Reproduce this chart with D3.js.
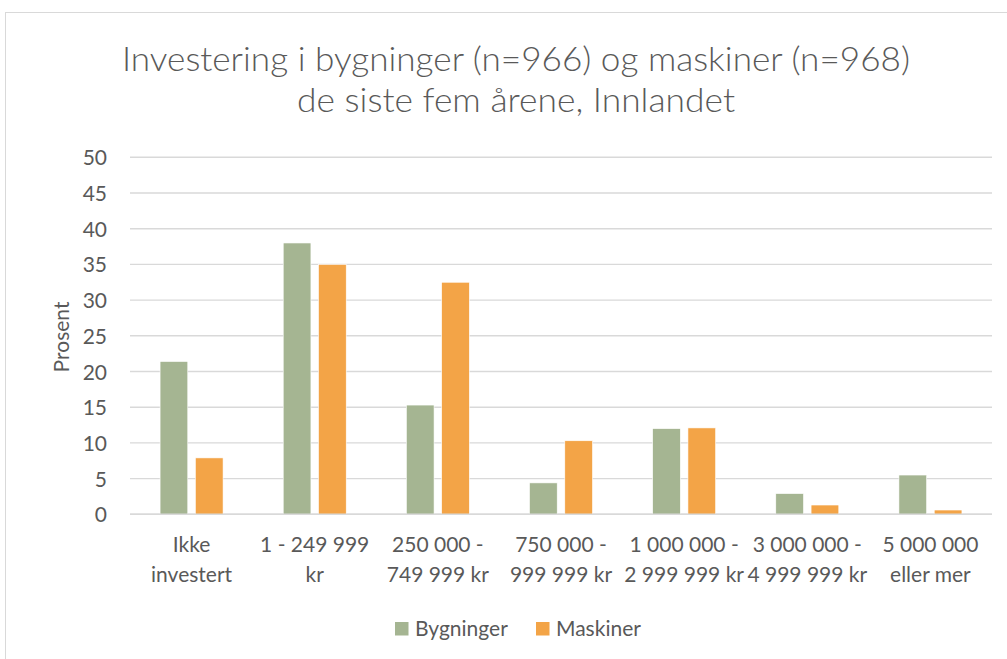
<!DOCTYPE html>
<html>
<head>
<meta charset="utf-8">
<script src="https://cdn.jsdelivr.net/npm/d3@7"></script>
<style>
  html, body { margin: 0; padding: 0; background: #fff; }
  svg { display: block; }
  text { font-family: "Lato", "Open Sans", sans-serif; fill: #595959; }
</style>
</head>
<body>
<svg id="chart" width="1007" height="659"></svg>
<script>
const categories = [
  ["Ikke", "investert"],
  ["1 - 249 999", "kr"],
  ["250 000 -", "749 999 kr"],
  ["750 000 -", "999 999 kr"],
  ["1 000 000 -", "2 999 999 kr"],
  ["3 000 000 -", "4 999 999 kr"],
  ["5 000 000", "eller mer"]
];
const seriesNames = ["Bygninger", "Maskiner"];
const bygninger = [21.4, 38.0, 15.3, 4.4, 12.0, 2.9, 5.5];
const maskiner = [7.9, 35.0, 32.5, 10.3, 12.1, 1.3, 0.6];
const yTicks = [0, 5, 10, 15, 20, 25, 30, 35, 40, 45, 50];
const titleLines = ["Investering i bygninger (n=966) og maskiner (n=968)", "de siste fem årene, Innlandet"];
const yLabel = "Prosent";
const colors = ["#a5b592", "#f3a447"];

(function () {
const svg = d3.select("#chart");
const values = [bygninger, maskiner];

// chart frame
svg.append("rect").attr("x", 5.5).attr("y", 12.5).attr("width", 1100).attr("height", 800)
  .attr("fill", "none").attr("stroke", "#d9d9d9").attr("stroke-width", 1);

const pLeft = 130, pRight = 992, pTop = 157.3, pBottom = 514.3;
const x = d3.scaleBand().domain(d3.range(categories.length)).range([pLeft, pRight]).padding(0);
const groupW = 63;
const xs = d3.scaleBand().domain(seriesNames).range([0, groupW]).paddingInner(0.215).paddingOuter(0);
const y = d3.scaleLinear().domain([0, 50]).range([pBottom, pTop]);

// gridlines
svg.append("g").selectAll("line").data(yTicks).join("line")
  .attr("x1", pLeft).attr("x2", pRight)
  .attr("y1", d => y(d)).attr("y2", d => y(d))
  .attr("stroke", "#d9d9d9").attr("stroke-width", 1.4);

// y axis labels
const yAxis = d3.axisLeft(y).tickValues(yTicks).tickSize(0).tickPadding(0);
const gy = svg.append("g").attr("transform", `translate(107,0)`).call(yAxis);
gy.select(".domain").remove();
gy.selectAll("text").style("font-size", "21px").attr("fill", "#595959")
  .style("font-family", "Lato, 'Open Sans', sans-serif").attr("dy", "0.36em");

// bars
seriesNames.forEach((s, si) => {
  svg.append("g").selectAll("rect").data(values[si]).join("rect")
    .attr("x", (d, i) => x(i) + (x.bandwidth() - groupW) / 2 + xs(s))
    .attr("width", xs.bandwidth())
    .attr("y", d => y(d))
    .attr("height", d => y(0) - y(d))
    .attr("fill", colors[si])
    .attr("stroke", "#fff").attr("stroke-width", 0.6);
});

// x axis line
svg.append("line").attr("x1", pLeft).attr("x2", pRight).attr("y1", pBottom).attr("y2", pBottom)
  .attr("stroke", "#d9d9d9").attr("stroke-width", 1.4);

// x labels
const xl = svg.append("g").selectAll("text").data(categories).join("text")
  .attr("text-anchor", "middle").style("font-size", "21px");
xl.each(function(d, i) {
  const t = d3.select(this);
  const cx = x(i) + x.bandwidth() / 2;
  d.forEach((line, li) => {
    t.append("tspan").attr("x", cx).attr("y", 552 + li * 30).text(line);
  });
});

// y label
svg.append("text").attr("transform", "translate(69,337) rotate(-90)")
  .attr("text-anchor", "middle").style("font-size", "21px").text(yLabel);

// title
const titleW = [788, 438];
titleLines.forEach((line, i) => {
  svg.append("text").attr("x", 516).attr("y", 71 + i * 41).attr("text-anchor", "middle")
    .style("font-size", "34px").style("font-weight", "300")
    .attr("textLength", titleW[i]).attr("lengthAdjust", "spacingAndGlyphs").text(line);
});

// legend
const lg = svg.append("g");
const legendItems = [{ name: seriesNames[0], x: 395 }, { name: seriesNames[1], x: 536 }];
legendItems.forEach((it, i) => {
  lg.append("rect").attr("x", it.x).attr("y", 622).attr("width", 13.5).attr("height", 13.5).attr("fill", colors[i]);
  lg.append("text").attr("x", it.x + 20).attr("y", 636).style("font-size", "21px").text(it.name);
});
})();
</script>
</body>
</html>
